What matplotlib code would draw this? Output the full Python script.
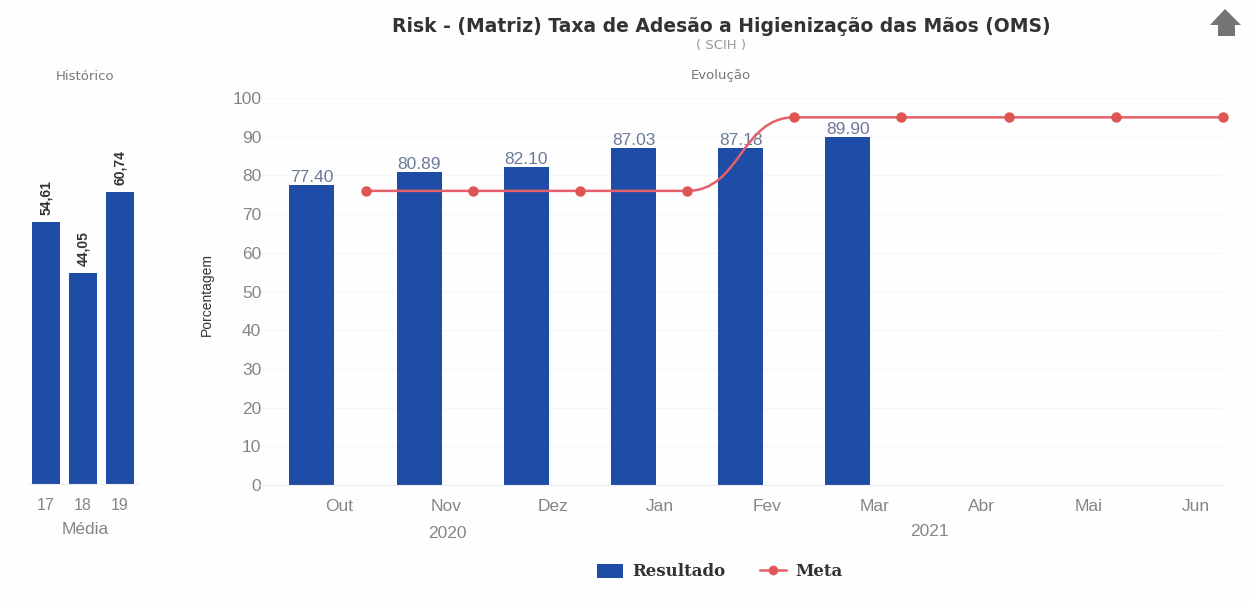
import matplotlib
matplotlib.use("Agg")
import matplotlib.pyplot as plt
from matplotlib.lines import Line2D
from matplotlib.patches import Patch, PathPatch, Polygon
from matplotlib.path import Path

plt.rcParams['font.family'] = ['Liberation Sans', 'DejaVu Sans']

# Dados
hist_labels = ["17", "18", "19"]
hist_values = [54.61, 44.05, 60.74]
hist_text = ["54,61", "44,05", "60,74"]

months = ["Out", "Nov", "Dez", "Jan", "Fev", "Mar", "Abr", "Mai", "Jun"]
resultado = [77.40, 80.89, 82.10, 87.03, 87.18, 89.90]
meta = [76, 76, 76, 76, 95, 95, 95, 95, 95]
y_ticks = [0, 10, 20, 30, 40, 50, 60, 70, 80, 90, 100]

W, H = 1250, 605
BLUE = "#1F4CA6"
RED = "#E4606A"
MARK = "#DF5552"
GREY = "#858585"


def px_axes(left, top, right, bottom):
    return fig.add_axes([left / W, 1 - bottom / H, (right - left) / W, (bottom - top) / H])


def clean(ax):
    for s in ["top", "right", "left"]:
        ax.spines[s].set_visible(False)
    ax.spines["bottom"].set_color("#EEEEEE")
    ax.set_facecolor("none")


fig = plt.figure(figsize=(W / 100, H / 100), dpi=100, facecolor="#FEFEFE")

# Histórico
ax1 = px_axes(27.5, 98, 138.5, 484)
clean(ax1)
xs1 = list(range(len(hist_values)))
ax1.bar(xs1, hist_values, width=0.78, color=BLUE)
ax1.set_xlim(-0.5, 2.5)
ax1.set_ylim(0, 80.4)
ax1.set_yticks([])
ax1.set_xticks(xs1)
ax1.set_xticklabels(hist_labels, fontsize=11.5, color=GREY)
ax1.tick_params(axis="x", length=0, pad=10)
for x, v, t in zip(xs1, hist_values, hist_text):
    ax1.annotate(t, (x, v), xytext=(0, 5), textcoords="offset points", rotation=90,
                 ha="center", va="bottom", fontsize=10, fontweight="bold", color="#333333")

# Evolução
ax2 = px_axes(258.4, 98, 1223, 485)
clean(ax2)
xs2 = list(range(len(resultado)))
ax2.bar(xs2, resultado, width=0.42, color=BLUE, zorder=2)
ax2.set_xlim(-0.5, len(months) - 0.5)
ax2.set_ylim(0, 100)
ax2.set_yticks(y_ticks)
ax2.tick_params(axis="y", length=0, labelsize=12.5, labelcolor=GREY, pad=-2)
ax2.grid(axis="y", color="#F6F6F6", linewidth=0.8, zorder=0)
ax2.set_xticks([i + 0.25 for i in range(len(months))])
ax2.set_xticklabels(months, fontsize=12.5, color=GREY)
ax2.tick_params(axis="x", length=0, pad=10)
for x, v in zip(xs2, resultado):
    ax2.annotate(f"{v:.2f}", (x, v), xytext=(0, 0), textcoords="offset points",
                 ha="center", va="bottom", fontsize=12.5, color="#6B7A99", zorder=2.5)

# Linha suavizada da meta
line_x = [i + 0.5 for i in range(len(meta))]
verts = [(line_x[0], meta[0])]
codes = [Path.MOVETO]
for i in range(1, len(meta)):
    mid = (line_x[i - 1] + line_x[i]) / 2
    verts += [(mid, meta[i - 1]), (mid, meta[i]), (line_x[i], meta[i])]
    codes += [Path.CURVE4] * 3
ax2.add_patch(PathPatch(Path(verts, codes), fill=False, edgecolor=RED, linewidth=1.8,
                        zorder=3, clip_on=False))
ax2.plot(line_x, meta, linestyle="none", marker="o", markersize=6.5, color=MARK,
         zorder=5, clip_on=False)

# Textos
fig.text(721 / W, 1 - 26 / H, "Risk - (Matriz) Taxa de Adesão a Higienização das Mãos (OMS)",
         ha="center", va="center", fontsize=13.5, fontweight="bold", color="#333333",
         family="DejaVu Sans")
fig.text(721 / W, 1 - 46 / H, "( SCIH )", ha="center", va="center", fontsize=9.5,
         color="#9A9A9A", family="DejaVu Sans")
fig.text(721 / W, 1 - 75 / H, "Evolução", ha="center", va="center", fontsize=9.5,
         color="#777777", family="DejaVu Sans")
fig.text(85 / W, 1 - 76 / H, "Histórico", ha="center", va="center", fontsize=9.5,
         color="#777777", family="DejaVu Sans")
fig.text(85 / W, 1 - 530 / H, "Média", ha="center", va="center", fontsize=12.5, color=GREY)
fig.text(447 / W, 1 - 533 / H, "2020", ha="center", va="center", fontsize=12.5, color=GREY)
fig.text(929 / W, 1 - 531 / H, "2021", ha="center", va="center", fontsize=12.5, color=GREY)
fig.text(207 / W, 1 - 294 / H, "Porcentagem", ha="center", va="center", rotation=90,
         fontsize=10, color="#333333")

# Seta de voltar
arrow = [(1225, 9), (1241, 25), (1235, 25), (1235, 36), (1218, 36), (1218, 25), (1210, 25)]
fig.add_artist(Polygon([(x / W, 1 - y / H) for x, y in arrow], closed=True,
                       transform=fig.transFigure, facecolor="#757575", edgecolor="none"))

# Legenda
handles = [Patch(facecolor=BLUE, edgecolor="none", label="Resultado"),
           Line2D([], [], color=RED, linewidth=1.8, marker="o", markersize=6,
                  markerfacecolor=MARK, label="Meta")]
leg = fig.legend(handles=handles, loc="center", bbox_to_anchor=(720 / W, 1 - 572 / H), ncol=2,
                 frameon=False, handlelength=1.55, handleheight=0.9, columnspacing=2.1,
                 handletextpad=0.55, prop={"family": "DejaVu Serif", "weight": "bold", "size": 12})
for t in leg.get_texts():
    t.set_color("#333333")

fig.savefig("out.png", dpi=100, facecolor=fig.get_facecolor())
